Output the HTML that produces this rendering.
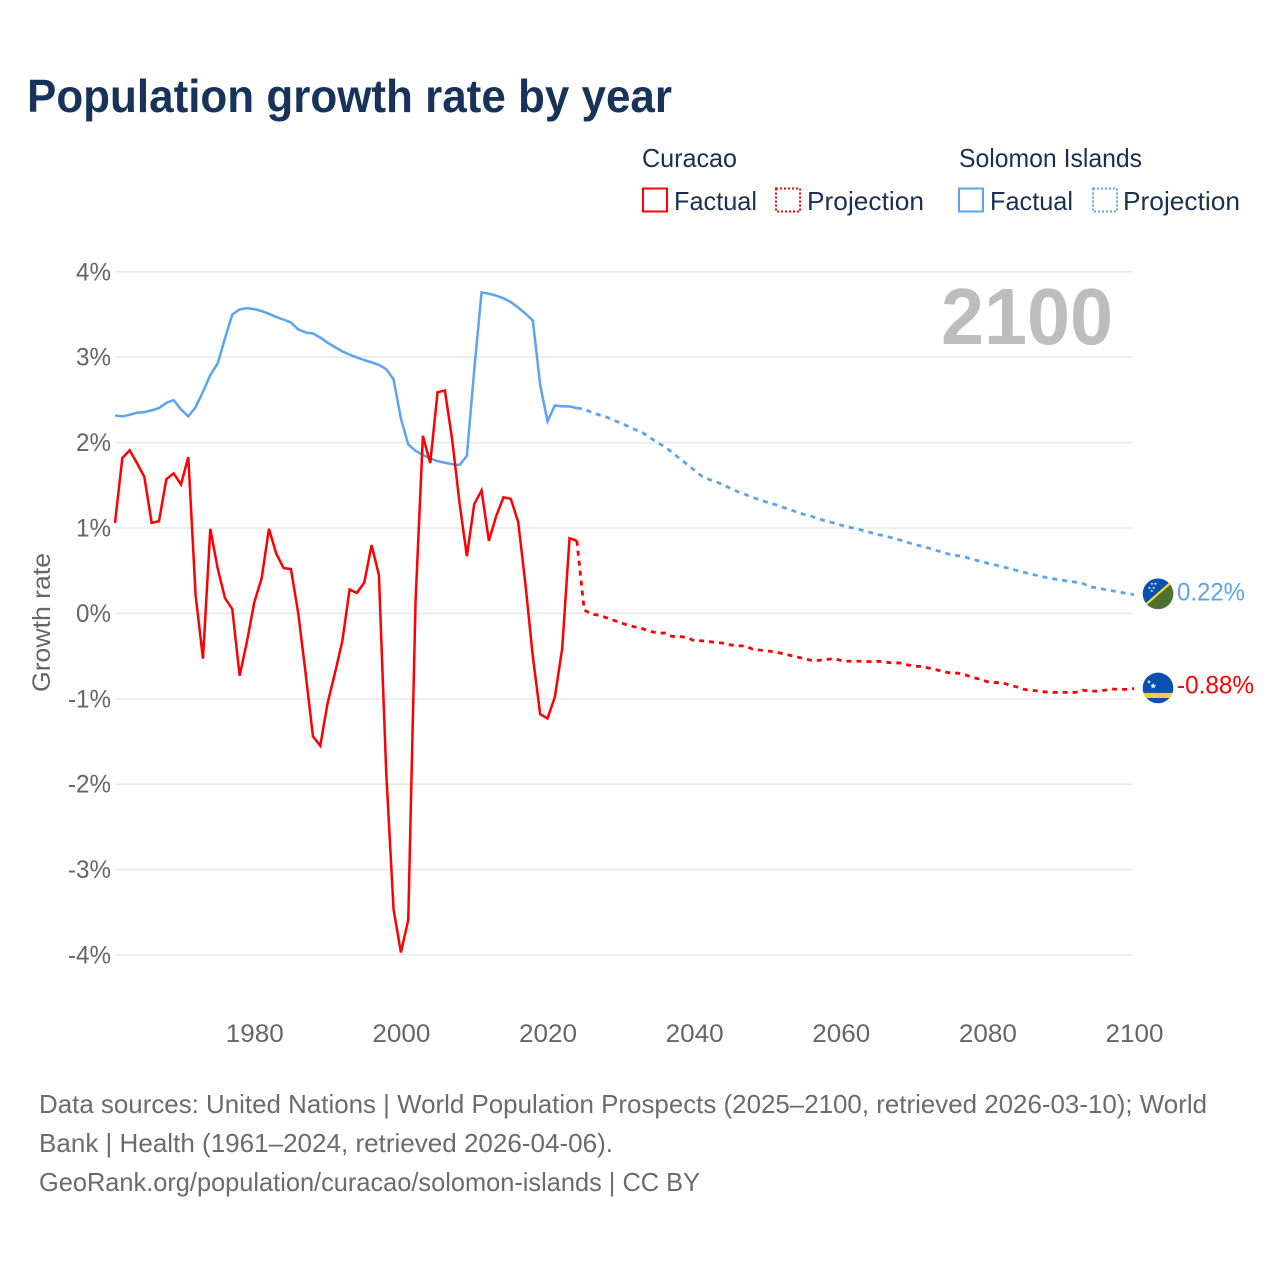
<!DOCTYPE html>
<html lang="en">
<head>
<meta charset="utf-8">
<title>Population growth rate by year</title>
<style>
html,body{margin:0;padding:0;background:#fff;}
svg{display:block;}
text{font-family:"Liberation Sans",sans-serif;}
</style>
</head>
<body>
<svg id="chart" xmlns="http://www.w3.org/2000/svg" width="1280" height="1280" viewBox="0 0 1280 1280">
  <rect x="0" y="0" width="1280" height="1280" fill="#fff"/>
  <text x="27" y="112" font-size="46" font-weight="700" fill="#17335a" textLength="645" lengthAdjust="spacingAndGlyphs">Population growth rate by year</text>

  <g font-size="26" fill="#1a3050">
    <text x="642" y="167" textLength="95" lengthAdjust="spacingAndGlyphs">Curacao</text>
    <text x="959" y="167" textLength="183" lengthAdjust="spacingAndGlyphs">Solomon Islands</text>
    <g>
      <rect x="643" y="188.5" width="24" height="23" fill="none" stroke="#ff0000" stroke-width="2"/>
      <text x="674" y="210" textLength="83" lengthAdjust="spacingAndGlyphs">Factual</text>
    </g>
    <g>
      <rect x="776" y="188.5" width="24" height="23" fill="none" stroke="#ff0000" stroke-width="2" stroke-dasharray="2 2"/>
      <text x="807" y="210" textLength="117" lengthAdjust="spacingAndGlyphs">Projection</text>
    </g>
    <g>
      <rect x="959" y="188.5" width="24" height="23" fill="none" stroke="#5ba4ee" stroke-width="2"/>
      <text x="990" y="210" textLength="83" lengthAdjust="spacingAndGlyphs">Factual</text>
    </g>
    <g>
      <rect x="1093" y="188.5" width="24" height="23" fill="none" stroke="#5ba4ee" stroke-width="2" stroke-dasharray="2 2"/>
      <text x="1123" y="210" textLength="117" lengthAdjust="spacingAndGlyphs">Projection</text>
    </g>
  </g>

  <g id="grid"></g>
  <g id="yticks"></g>
  <g id="xticks"></g>
  <text transform="translate(50,622.5) rotate(-90)" text-anchor="middle" font-size="25" fill="#666" textLength="139" lengthAdjust="spacingAndGlyphs">Growth rate</text>
  <text x="941" y="344" font-size="80" font-weight="700" fill="#bdbdbd" textLength="172" lengthAdjust="spacingAndGlyphs">2100</text>

  <g id="series"></g>
  <g id="markers"></g>

  <g font-size="26" fill="#6b6b6b">
    <text x="39" y="1113" textLength="1168" lengthAdjust="spacingAndGlyphs">Data sources: United Nations | World Population Prospects (2025–2100, retrieved 2026-03-10); World</text>
    <text x="39" y="1152" textLength="574" lengthAdjust="spacingAndGlyphs">Bank | Health (1961–2024, retrieved 2026-04-06).</text>
    <text x="39" y="1191" textLength="661" lengthAdjust="spacingAndGlyphs">GeoRank.org/population/curacao/solomon-islands | CC BY</text>
  </g>
</svg>
<script>
const yTickValues = [4, 3, 2, 1, 0, -1, -2, -3, -4];
const xTickValues = [1980, 2000, 2020, 2040, 2060, 2080, 2100];
const factualStartYear = 1961;
const projectionStartYear = 2024;

const curacaoFactual = [
  1.06, 1.82, 1.91, 1.76, 1.60, 1.06, 1.08, 1.57, 1.64, 1.51,
  1.83, 0.21, -0.53, 0.99, 0.53, 0.18, 0.05, -0.73, -0.33, 0.13,
  0.41, 0.99, 0.70, 0.53, 0.52, 0.00, -0.70, -1.44, -1.55, -1.05,
  -0.70, -0.33, 0.28, 0.24, 0.36, 0.80, 0.45, -1.87, -3.47, -3.97,
  -3.59, 0.15, 2.08, 1.76, 2.59, 2.61, 2.03, 1.29, 0.67, 1.28,
  1.44, 0.85, 1.14, 1.36, 1.34, 1.07, 0.33, -0.51, -1.18, -1.23,
  -0.98, -0.41, 0.88, 0.85
];
const curacaoProjection = [
  0.85, 0.04, -0.01, -0.02, -0.05, -0.08, -0.11, -0.14, -0.16, -0.18,
  -0.21, -0.23, -0.23, -0.27, -0.27, -0.28, -0.32, -0.32, -0.33, -0.34,
  -0.35, -0.37, -0.38, -0.38, -0.42, -0.43, -0.44, -0.45, -0.47, -0.49,
  -0.51, -0.53, -0.55, -0.55, -0.54, -0.53, -0.55, -0.56, -0.56, -0.56,
  -0.565, -0.56, -0.57, -0.58, -0.58, -0.60, -0.62, -0.62, -0.64, -0.66,
  -0.68, -0.70, -0.70, -0.72, -0.75, -0.77, -0.80, -0.81, -0.81, -0.84,
  -0.86, -0.89, -0.90, -0.91, -0.92, -0.925, -0.925, -0.925, -0.925, -0.90,
  -0.91, -0.91, -0.90, -0.885, -0.89, -0.89, -0.88
];
const solomonFactual = [
  2.318, 2.307, 2.326, 2.35, 2.357, 2.377, 2.404, 2.466, 2.498, 2.389,
  2.307, 2.416, 2.595, 2.79, 2.927, 3.22, 3.50, 3.56, 3.575, 3.563,
  3.54, 3.508, 3.47, 3.44, 3.407, 3.325, 3.29, 3.278, 3.23, 3.17,
  3.118, 3.068, 3.03, 2.997, 2.966, 2.94, 2.91, 2.86, 2.74, 2.283,
  1.979, 1.904, 1.854, 1.815, 1.783, 1.764, 1.748, 1.737, 1.846, 2.85,
  3.759, 3.743, 3.72, 3.69, 3.645, 3.58, 3.51, 3.427, 2.673, 2.25,
  2.435, 2.424, 2.424, 2.404
];
const solomonProjection = [
  2.404, 2.392, 2.353, 2.326, 2.30, 2.263, 2.228, 2.19, 2.15, 2.115,
  2.056, 2.00, 1.95, 1.885, 1.815, 1.748, 1.678, 1.61, 1.57, 1.54,
  1.506, 1.463, 1.424, 1.393, 1.358, 1.327, 1.30, 1.276, 1.245, 1.218,
  1.186, 1.159, 1.136, 1.108, 1.08, 1.06, 1.034, 1.01, 0.995, 0.972,
  0.948, 0.925, 0.905, 0.885, 0.862, 0.835, 0.808, 0.788, 0.765, 0.737,
  0.714, 0.686, 0.675, 0.659, 0.632, 0.612, 0.589, 0.569, 0.546, 0.527,
  0.503, 0.48, 0.46, 0.44, 0.42, 0.405, 0.39, 0.378, 0.366, 0.351,
  0.31, 0.30, 0.28, 0.265, 0.25, 0.234, 0.22
];

const SVG_NS = "http://www.w3.org/2000/svg";
const BLUE = "#5ba4ee";
const RED = "#ff0000";

function xScale(year) { return 115 + (year - 1961) * (1134 - 115) / (2100 - 1961); }
function yScale(value) { return 613.4 - value * 85.4; }
function make(tag, attrs, parent) {
  const el = document.createElementNS(SVG_NS, tag);
  for (const k in attrs) el.setAttribute(k, attrs[k]);
  parent.appendChild(el);
  return el;
}
function pathFor(values, startYear) {
  return values.map((v, i) =>
    (i ? "L" : "M") + xScale(startYear + i).toFixed(2) + " " + yScale(v).toFixed(2)
  ).join(" ");
}

const grid = document.getElementById("grid");
const yticks = document.getElementById("yticks");
const xticks = document.getElementById("xticks");
const seriesG = document.getElementById("series");
const markers = document.getElementById("markers");

yTickValues.forEach(v => {
  const line = make("line", { x1: 115, x2: 1133, y1: yScale(v), y2: yScale(v), stroke: "#e9e9e9", "stroke-width": 1.6 }, grid);
  
  
  const t = make("text", { x: 111, y: yScale(v) + 8.5, "text-anchor": "end", "font-size": 25, fill: "#666", textLength: v < 0 ? 43 : 35, lengthAdjust: "spacingAndGlyphs" }, yticks);
  
  
  t.textContent = v + "%";
});

xTickValues.forEach(yr => {
  const t = make("text", { x: xScale(yr) + 0.5, y: 1042, "text-anchor": "middle", "font-size": 25, fill: "#666", textLength: 58, lengthAdjust: "spacingAndGlyphs" }, xticks);
  
  
  t.textContent = yr;
});

function drawLine(values, startYear, color, dashed, name) {
  const p = make("path", { d: pathFor(values, startYear), fill: "none", stroke: color, "stroke-width": dashed ? 2.8 : 2.5, "stroke-linejoin": "miter" }, seriesG);
  if (dashed) p.setAttribute("stroke-dasharray", "5 5");
  
  
}
drawLine(solomonFactual, factualStartYear, BLUE, false, "line-solomon-factual");
drawLine(solomonProjection, projectionStartYear, BLUE, true, "line-solomon-projection");
drawLine(curacaoFactual, factualStartYear, RED, false, "line-curacao-factual");
drawLine(curacaoProjection, projectionStartYear, RED, true, "line-curacao-projection");

function star(cx, cy, r, parent) {
  const pts = [];
  for (let i = 0; i < 10; i++) {
    const a = -Math.PI / 2 + i * Math.PI / 5;
    const rr = i % 2 ? r * 0.42 : r;
    pts.push((cx + rr * Math.cos(a)).toFixed(2) + "," + (cy + rr * Math.sin(a)).toFixed(2));
  }
  const s = make("polygon", { points: pts.join(" "), fill: "#fff" }, parent);
  
  
}

const endX = xScale(2100);
const solVal = solomonProjection[solomonProjection.length - 1];
const curVal = curacaoProjection[curacaoProjection.length - 1];

// Solomon Islands flag marker
const solG = make("g", { transform: "translate(" + (endX + 24) + "," + (yScale(solVal) - 0.8) + ")" }, markers);


const solClip = make("clipPath", { id: "clip-sol" }, solG);
make("circle", { r: 15.3 }, solClip);
const solInner = make("g", { "clip-path": "url(#clip-sol)" }, solG);
make("rect", { x: -16, y: -16, width: 32, height: 32, fill: "#0a50b0" }, solInner);
make("polygon", { points: "16,-16 16,16 -16,16", fill: "#4c7130" }, solInner);
make("line", { x1: -16, y1: 14, x2: 16, y2: -14, stroke: "#f6d832", "stroke-width": 2.2 }, solInner);
[[-6, -10], [-2.5, -10], [-8.5, -6], [-4.2, -6], [-6.2, -3]].forEach(c => star(c[0], c[1], 1.5, solInner));

// Curacao flag marker
const curG = make("g", { transform: "translate(" + (endX + 24) + "," + (yScale(curVal) - 0.6) + ")" }, markers);


const curClip = make("clipPath", { id: "clip-cur" }, curG);
make("circle", { r: 15.3 }, curClip);
const curInner = make("g", { "clip-path": "url(#clip-cur)" }, curG);
make("rect", { x: -16, y: -16, width: 32, height: 32, fill: "#0a50b0" }, curInner);
make("rect", { x: -16, y: 5, width: 32, height: 5, fill: "#f6d040" }, curInner);
star(-4.8, -2, 3.2, curInner);
star(-9, -6, 2, curInner);

const solLabel = make("text", { x: 1177, y: yScale(solVal) + 6, "font-size": 25, fill: BLUE, textLength: 68, lengthAdjust: "spacingAndGlyphs" }, markers);


solLabel.textContent = solVal.toFixed(2) + "%";

const curLabel = make("text", { x: 1177, y: yScale(curVal) + 5, "font-size": 25, fill: RED, textLength: 77, lengthAdjust: "spacingAndGlyphs" }, markers);


curLabel.textContent = curVal.toFixed(2) + "%";
</script>
</body>
</html>
